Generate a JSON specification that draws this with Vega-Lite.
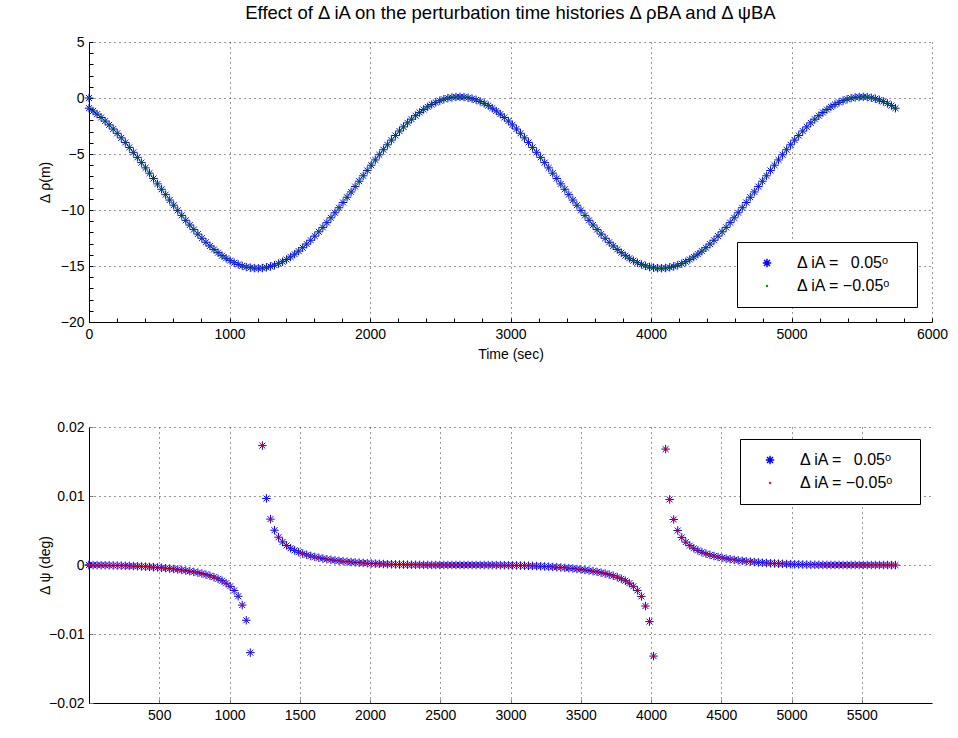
{
"$schema":"https://vega.github.io/schema/vega-lite/v6.json",
"background":"white",
"padding":{"left":38,"top":3,"right":15,"bottom":5},
"config":{"view":{"stroke":null},"font":"Liberation Sans",
"axis":{"labelFont":"Liberation Sans","labelFontSize":14,"labelColor":"#000","titleFont":"Liberation Sans","titleFontSize":14,"titleFontWeight":"normal","titleColor":"#000","domainColor":"#000","domainWidth":1,"tickColor":"#000","tickSize":-4,"labelPadding":9,"gridColor":"#333","gridDash":[1,4],"gridWidth":1,"labelFlush":false,"labelOverlap":false},
"legend":{"labelFont":"Liberation Sans","labelFontSize":16,"labelColor":"#000","strokeColor":"#000","fillColor":"#fff","padding":13,"rowPadding":7,"symbolSize":72,"symbolStrokeWidth":1.5,"symbolOffset":9,"labelOffset":22}},
"datasets":{"d":[
{"t":0,"r":0,"q":0},
{"t":0,"r":-0.91,"q":-0.0000122},{"t":28.7,"r":-1.16,"q":-0.0000171},{"t":57.4,"r":-1.44,"q":-0.0000233},{"t":86.1,"r":-1.74,"q":-0.0000308},{"t":114.8,"r":-2.06,"q":-0.0000398},{"t":143.5,"r":-2.4,"q":-0.0000503},{"t":172.2,"r":-2.77,"q":-0.0000626},{"t":200.9,"r":-3.15,"q":-0.0000768},{"t":229.6,"r":-3.56,"q":-0.000093},{"t":258.3,"r":-3.97,"q":-0.000111},
{"t":287,"r":-4.41,"q":-0.000132},{"t":315.7,"r":-4.85,"q":-0.000155},{"t":344.4,"r":-5.3,"q":-0.000181},{"t":373.1,"r":-5.77,"q":-0.00021},{"t":401.8,"r":-6.24,"q":-0.000242},{"t":430.5,"r":-6.71,"q":-0.000277},{"t":459.2,"r":-7.19,"q":-0.000316},{"t":487.9,"r":-7.67,"q":-0.000358},{"t":516.6,"r":-8.15,"q":-0.000405},{"t":545.3,"r":-8.63,"q":-0.000457},
{"t":574,"r":-9.11,"q":-0.000513},{"t":602.7,"r":-9.57,"q":-0.000575},{"t":631.4,"r":-10.03,"q":-0.000644},{"t":660.1,"r":-10.48,"q":-0.000719},{"t":688.8,"r":-10.92,"q":-0.000802},{"t":717.5,"r":-11.34,"q":-0.000894},{"t":746.2,"r":-11.75,"q":-0.000997},{"t":774.9,"r":-12.15,"q":-0.00111},{"t":803.6,"r":-12.52,"q":-0.00124},{"t":832.3,"r":-12.88,"q":-0.00139},
{"t":861,"r":-13.21,"q":-0.00156},{"t":889.7,"r":-13.52,"q":-0.00176},{"t":918.4,"r":-13.81,"q":-0.002},{"t":947.1,"r":-14.08,"q":-0.00228},{"t":975.8,"r":-14.31,"q":-0.00264},{"t":1004.5,"r":-14.52,"q":-0.00309},{"t":1033.2,"r":-14.71,"q":-0.00369},{"t":1061.9,"r":-14.86,"q":-0.00453},{"t":1090.6,"r":-14.99,"q":-0.00581},{"t":1119.3,"r":-15.09,"q":-0.00801},
{"t":1148,"r":-15.15,"q":-0.0127},{"t":1176.7,"r":-15.19,"q":null},{"t":1205.4,"r":-15.2,"q":null},{"t":1234.1,"r":-15.18,"q":0.0173},{"t":1262.8,"r":-15.12,"q":0.00964},{"t":1291.5,"r":-15.04,"q":0.00665},{"t":1320.2,"r":-14.93,"q":0.00504},{"t":1348.9,"r":-14.79,"q":0.00403},{"t":1377.6,"r":-14.62,"q":0.00334},{"t":1406.3,"r":-14.42,"q":0.00283},
{"t":1435,"r":-14.19,"q":0.00243},{"t":1463.7,"r":-13.94,"q":0.00212},{"t":1492.4,"r":-13.67,"q":0.00186},{"t":1521.1,"r":-13.37,"q":0.00165},{"t":1549.8,"r":-13.04,"q":0.00147},{"t":1578.5,"r":-12.7,"q":0.00131},{"t":1607.2,"r":-12.33,"q":0.00117},{"t":1635.9,"r":-11.95,"q":0.00105},{"t":1664.6,"r":-11.55,"q":0.00094},{"t":1693.3,"r":-11.13,"q":0.000843},
{"t":1722,"r":-10.7,"q":0.000756},{"t":1750.7,"r":-10.25,"q":0.000677},{"t":1779.4,"r":-9.8,"q":0.000605},{"t":1808.1,"r":-9.33,"q":0.000541},{"t":1836.8,"r":-8.86,"q":0.000482},{"t":1865.5,"r":-8.39,"q":0.000428},{"t":1894.2,"r":-7.91,"q":0.000379},{"t":1922.9,"r":-7.43,"q":0.000335},{"t":1951.6,"r":-6.95,"q":0.000294},{"t":1980.3,"r":-6.47,"q":0.000258},
{"t":2009,"r":-6,"q":0.000224},{"t":2037.7,"r":-5.53,"q":0.000194},{"t":2066.4,"r":-5.07,"q":0.000167},{"t":2095.1,"r":-4.62,"q":0.000142},{"t":2123.8,"r":-4.18,"q":0.000121},{"t":2152.5,"r":-3.76,"q":0.000101},{"t":2181.2,"r":-3.35,"q":0.0000839},{"t":2209.9,"r":-2.95,"q":0.0000688},{"t":2238.6,"r":-2.58,"q":0.0000557},{"t":2267.3,"r":-2.22,"q":0.0000444},
{"t":2296,"r":-1.89,"q":0.0000347},{"t":2324.7,"r":-1.58,"q":0.0000266},{"t":2353.4,"r":-1.29,"q":0.0000198},{"t":2382.1,"r":-1.03,"q":0.0000143},{"t":2410.8,"r":-0.79,"q":0.0000099},{"t":2439.5,"r":-0.58,"q":0.0000065},{"t":2468.2,"r":-0.39,"q":0.000004},{"t":2496.9,"r":-0.24,"q":0.0000023},{"t":2525.6,"r":-0.11,"q":0.0000011},{"t":2554.3,"r":-0.01,"q":0.0000004},
{"t":2583,"r":0.05,"q":0.0000001},{"t":2611.7,"r":0.09,"q":0},{"t":2640.4,"r":0.1,"q":0},{"t":2669.1,"r":0.08,"q":0},{"t":2697.8,"r":0.02,"q":-0.0000003},{"t":2726.5,"r":-0.06,"q":-0.0000008},{"t":2755.2,"r":-0.17,"q":-0.0000017},{"t":2783.9,"r":-0.31,"q":-0.0000031},{"t":2812.6,"r":-0.48,"q":-0.0000053},{"t":2841.3,"r":-0.68,"q":-0.0000083},
{"t":2870,"r":-0.91,"q":-0.0000122},{"t":2898.7,"r":-1.16,"q":-0.0000171},{"t":2927.4,"r":-1.44,"q":-0.0000233},{"t":2956.1,"r":-1.74,"q":-0.0000308},{"t":2984.8,"r":-2.06,"q":-0.0000398},{"t":3013.5,"r":-2.4,"q":-0.0000503},{"t":3042.2,"r":-2.77,"q":-0.0000626},{"t":3070.9,"r":-3.15,"q":-0.0000768},{"t":3099.6,"r":-3.56,"q":-0.000093},{"t":3128.3,"r":-3.97,"q":-0.000111},
{"t":3157,"r":-4.41,"q":-0.000132},{"t":3185.7,"r":-4.85,"q":-0.000155},{"t":3214.4,"r":-5.3,"q":-0.000181},{"t":3243.1,"r":-5.77,"q":-0.00021},{"t":3271.8,"r":-6.24,"q":-0.000242},{"t":3300.5,"r":-6.71,"q":-0.000277},{"t":3329.2,"r":-7.19,"q":-0.000316},{"t":3357.9,"r":-7.67,"q":-0.000358},{"t":3386.6,"r":-8.15,"q":-0.000405},{"t":3415.3,"r":-8.63,"q":-0.000457},
{"t":3444,"r":-9.11,"q":-0.000513},{"t":3472.7,"r":-9.57,"q":-0.000575},{"t":3501.4,"r":-10.03,"q":-0.000644},{"t":3530.1,"r":-10.48,"q":-0.000719},{"t":3558.8,"r":-10.92,"q":-0.000802},{"t":3587.5,"r":-11.34,"q":-0.000894},{"t":3616.2,"r":-11.75,"q":-0.000997},{"t":3644.9,"r":-12.15,"q":-0.00111},{"t":3673.6,"r":-12.52,"q":-0.00124},{"t":3702.3,"r":-12.88,"q":-0.00139},
{"t":3731,"r":-13.21,"q":-0.00156},{"t":3759.7,"r":-13.52,"q":-0.00176},{"t":3788.4,"r":-13.81,"q":-0.002},{"t":3817.1,"r":-14.08,"q":-0.00228},{"t":3845.8,"r":-14.31,"q":-0.00264},{"t":3874.5,"r":-14.52,"q":-0.00309},{"t":3903.2,"r":-14.71,"q":-0.00369},{"t":3931.9,"r":-14.86,"q":-0.00455},{"t":3960.6,"r":-14.99,"q":-0.00595},{"t":3989.3,"r":-15.09,"q":-0.0082},
{"t":4018,"r":-15.15,"q":-0.0132},{"t":4046.7,"r":-15.19,"q":null},{"t":4075.4,"r":-15.2,"q":null},{"t":4104.1,"r":-15.18,"q":0.0168},{"t":4132.8,"r":-15.12,"q":0.0095},{"t":4161.5,"r":-15.04,"q":0.0066},{"t":4190.2,"r":-14.93,"q":0.005},{"t":4218.9,"r":-14.79,"q":0.004},{"t":4247.6,"r":-14.62,"q":0.00332},{"t":4276.3,"r":-14.42,"q":0.00281},
{"t":4305,"r":-14.19,"q":0.00242},{"t":4333.7,"r":-13.94,"q":0.00211},{"t":4362.4,"r":-13.67,"q":0.00185},{"t":4391.1,"r":-13.37,"q":0.00164},{"t":4419.8,"r":-13.04,"q":0.00146},{"t":4448.5,"r":-12.7,"q":0.0013},{"t":4477.2,"r":-12.33,"q":0.00116},{"t":4505.9,"r":-11.95,"q":0.00104},{"t":4534.6,"r":-11.55,"q":0.00093},{"t":4563.3,"r":-11.13,"q":0.000835},
{"t":4592,"r":-10.7,"q":0.00075},{"t":4620.7,"r":-10.25,"q":0.000672},{"t":4649.4,"r":-9.8,"q":0.0006},{"t":4678.1,"r":-9.33,"q":0.000537},{"t":4706.8,"r":-8.86,"q":0.000479},{"t":4735.5,"r":-8.39,"q":0.000425},{"t":4764.2,"r":-7.91,"q":0.000376},{"t":4792.9,"r":-7.43,"q":0.000333},{"t":4821.6,"r":-6.95,"q":0.000292},{"t":4850.3,"r":-6.47,"q":0.000256},
{"t":4879,"r":-6,"q":0.000222},{"t":4907.7,"r":-5.53,"q":0.000193},{"t":4936.4,"r":-5.07,"q":0.000166},{"t":4965.1,"r":-4.62,"q":0.000141},{"t":4993.8,"r":-4.18,"q":0.00012},{"t":5022.5,"r":-3.76,"q":0.0001},{"t":5051.2,"r":-3.35,"q":0.0000835},{"t":5079.9,"r":-2.95,"q":0.0000685},{"t":5108.6,"r":-2.58,"q":0.0000555},{"t":5137.3,"r":-2.22,"q":0.0000442},
{"t":5166,"r":-1.89,"q":0.0000346},{"t":5194.7,"r":-1.58,"q":0.0000265},{"t":5223.4,"r":-1.29,"q":0.0000197},{"t":5252.1,"r":-1.03,"q":0.0000142},{"t":5280.8,"r":-0.79,"q":0.0000099},{"t":5309.5,"r":-0.58,"q":0.0000065},{"t":5338.2,"r":-0.39,"q":0.000004},{"t":5366.9,"r":-0.24,"q":0.0000023},{"t":5395.6,"r":-0.11,"q":0.0000011},{"t":5424.3,"r":-0.01,"q":0.0000004},
{"t":5453,"r":0.05,"q":0.0000001},{"t":5481.7,"r":0.09,"q":0},{"t":5510.4,"r":0.1,"q":0},{"t":5539.1,"r":0.08,"q":0},{"t":5567.8,"r":0.02,"q":-0.0000003},{"t":5596.5,"r":-0.06,"q":-0.0000008},{"t":5625.2,"r":-0.17,"q":-0.0000017},{"t":5653.9,"r":-0.31,"q":-0.0000031},{"t":5682.6,"r":-0.48,"q":-0.0000053},{"t":5711.3,"r":-0.68,"q":-0.0000083},
{"t":5740,"r":-0.91,"q":-0.0000122}
]},
"spacing":59,
"resolve":{"scale":{"color":"independent","shape":"independent"},"legend":{"color":"independent","shape":"independent"}},
"vconcat":[
{"width":843,"height":280,
"title":{"text":"Effect of Δ iA on the perturbation time histories Δ ρBA and Δ ψBA","font":"Liberation Sans","fontSize":18.5,"fontWeight":"normal","color":"#000","anchor":"middle","offset":13},
"data":{"name":"d"},
"encoding":{
"x":{"field":"t","type":"quantitative","scale":{"domain":[0,6000],"nice":false,"zero":false},
"axis":{"title":"Time (sec)","format":"d","titlePadding":6,"values":[0,200,400,600,800,1000,1200,1400,1600,1800,2000,2200,2400,2600,2800,3000,3200,3400,3600,3800,4000,4200,4400,4600,4800,5000,5200,5400,5600,5800,6000],
"labelExpr":"datum.value % 1000 == 0 ? datum.label : ''","gridOpacity":{"condition":{"test":"datum.value % 1000 != 0","value":0},"value":1}}},
"y":{"field":"r","type":"quantitative","scale":{"domain":[-20,5],"nice":false,"zero":false},
"axis":{"title":"Δ ρ(m)","format":"d","titleX":-37,"values":[-20,-19,-18,-17,-16,-15,-14,-13,-12,-11,-10,-9,-8,-7,-6,-5,-4,-3,-2,-1,0,1,2,3,4,5],
"labelExpr":"datum.value % 5 == 0 ? datum.label : ''","gridOpacity":{"condition":{"test":"datum.value % 5 != 0","value":0},"value":1}}}
},
"layer":[
{"mark":{"type":"point","filled":false,"strokeWidth":1,"size":72,"opacity":1},
"encoding":{"color":{"datum":"Δ iA = \u20020.05ᵒ\u2800","type":"nominal","scale":{"domain":["Δ iA = \u20020.05ᵒ\u2800","Δ iA = −0.05ᵒ\u2800"],"range":["#0000ff","#008000"]},"legend":{"title":null,"orient":"bottom-right","offset":15}},
"shape":{"datum":"Δ iA = \u20020.05ᵒ\u2800","type":"nominal","scale":{"domain":["Δ iA = \u20020.05ᵒ\u2800","Δ iA = −0.05ᵒ\u2800"],"range":["M-1,0L1,0M0,-1L0,1M-0.7,-0.7L0.7,0.7M-0.7,0.7L0.7,-0.7","M-0.1,0A0.1,0.1,0,1,1,0.1,0A0.1,0.1,0,1,1,-0.1,0Z"]},"legend":{"title":null,"orient":"bottom-right","offset":15}}}},
{"mark":{"type":"point","filled":false,"strokeWidth":2.2,"size":72,"opacity":1},
"encoding":{"color":{"datum":"Δ iA = −0.05ᵒ\u2800","type":"nominal","scale":{"domain":["Δ iA = \u20020.05ᵒ\u2800","Δ iA = −0.05ᵒ\u2800"],"range":["#0000ff","#008000"]},"legend":{"title":null,"orient":"bottom-right","offset":15}},
"shape":{"datum":"Δ iA = −0.05ᵒ\u2800","type":"nominal","scale":{"domain":["Δ iA = \u20020.05ᵒ\u2800","Δ iA = −0.05ᵒ\u2800"],"range":["M-1,0L1,0M0,-1L0,1M-0.7,-0.7L0.7,0.7M-0.7,0.7L0.7,-0.7","M-0.1,0A0.1,0.1,0,1,1,0.1,0A0.1,0.1,0,1,1,-0.1,0Z"]},"legend":{"title":null,"orient":"bottom-right","offset":15}}}}
]},
{"width":843,"height":276,
"data":{"name":"d"},
"encoding":{
"x":{"field":"t","type":"quantitative","scale":{"domain":[0,6000],"nice":false,"zero":false},
"axis":{"title":null,"format":"d","tickColor":"#777","values":[500,1000,1500,2000,2500,3000,3500,4000,4500,5000,5500]}},
"y":{"field":"q","type":"quantitative","scale":{"domain":[-0.02,0.02],"nice":false,"zero":false},
"axis":{"title":"Δ ψ (deg)","format":"~g","tickColor":"#777","titleX":-37,"values":[-0.02,-0.01,0,0.01,0.02]}}
},
"layer":[
{"mark":{"type":"point","filled":false,"strokeWidth":1,"size":72,"opacity":1},
"encoding":{"color":{"datum":"Δ iA = \u20020.05ᵒ\u2800","type":"nominal","scale":{"domain":["Δ iA = \u20020.05ᵒ\u2800","Δ iA = −0.05ᵒ\u2800"],"range":["#0000ff","#ff0000"]},"legend":{"title":null,"orient":"top-right","offset":12}},
"shape":{"datum":"Δ iA = \u20020.05ᵒ\u2800","type":"nominal","scale":{"domain":["Δ iA = \u20020.05ᵒ\u2800","Δ iA = −0.05ᵒ\u2800"],"range":["M-1,0L1,0M0,-1L0,1M-0.7,-0.7L0.7,0.7M-0.7,0.7L0.7,-0.7","M-0.1,0A0.1,0.1,0,1,1,0.1,0A0.1,0.1,0,1,1,-0.1,0Z"]},"legend":{"title":null,"orient":"top-right","offset":12}}}},
{"mark":{"type":"point","filled":false,"strokeWidth":2.2,"size":72,"opacity":1},
"encoding":{"color":{"datum":"Δ iA = −0.05ᵒ\u2800","type":"nominal","scale":{"domain":["Δ iA = \u20020.05ᵒ\u2800","Δ iA = −0.05ᵒ\u2800"],"range":["#0000ff","#ff0000"]},"legend":{"title":null,"orient":"top-right","offset":12}},
"shape":{"datum":"Δ iA = −0.05ᵒ\u2800","type":"nominal","scale":{"domain":["Δ iA = \u20020.05ᵒ\u2800","Δ iA = −0.05ᵒ\u2800"],"range":["M-1,0L1,0M0,-1L0,1M-0.7,-0.7L0.7,0.7M-0.7,0.7L0.7,-0.7","M-0.1,0A0.1,0.1,0,1,1,0.1,0A0.1,0.1,0,1,1,-0.1,0Z"]},"legend":{"title":null,"orient":"top-right","offset":12}}}}
]}
]}
